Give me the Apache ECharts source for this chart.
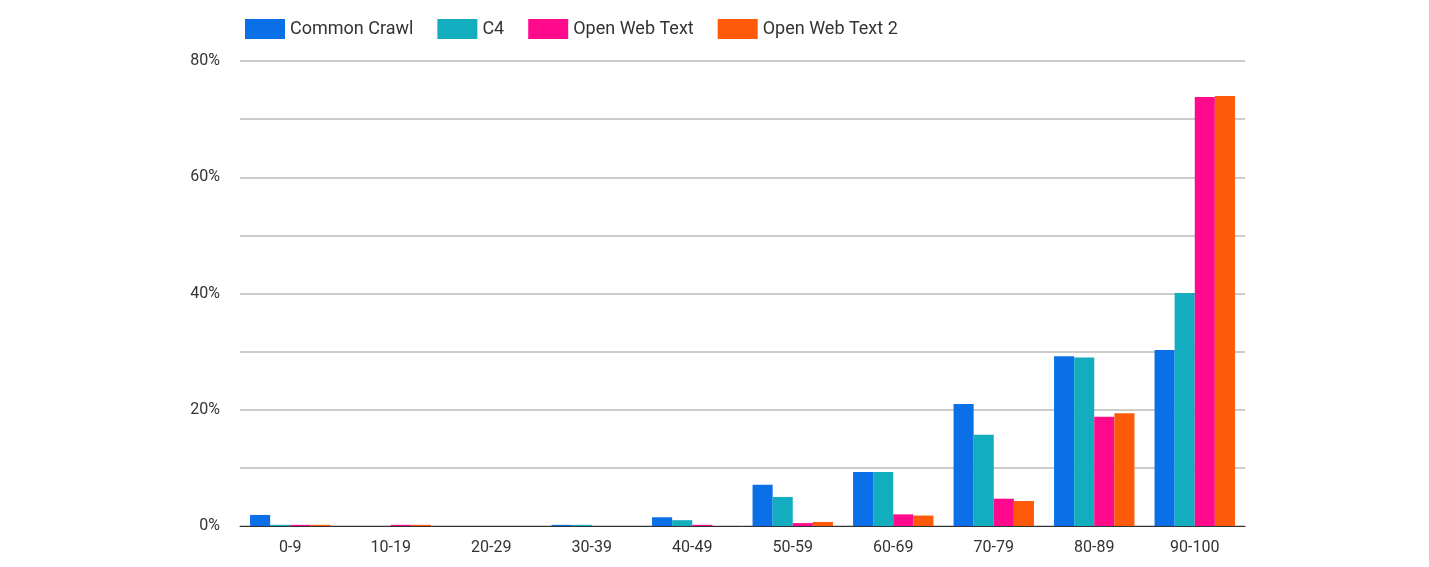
<!DOCTYPE html>
<html>
<head>
<meta charset="UTF-8">
<script src="https://cdn.jsdelivr.net/npm/echarts@6/dist/echarts.min.js"></script>
</head>
<body style="margin:0">
<div id="chart" style="width:1429px;height:567px"></div>
<script>
var categories = ['0-9','10-19','20-29','30-39','40-49','50-59','60-69','70-79','80-89','90-100'];
var commonCrawl = [1.9, 0, 0, 0.2, 1.5, 7.1, 9.3, 21.0, 29.2, 30.3];
var c4 = [0.2, 0, 0, 0.2, 1.0, 5.0, 9.3, 15.7, 29.0, 40.1];
var openWebText = [0.2, 0.2, 0, 0, 0.2, 0.5, 2.0, 4.7, 18.8, 73.8];
var openWebText2 = [0.2, 0.2, 0, 0, 0, 0.7, 1.8, 4.3, 19.4, 74.0];
var colors = ['#0b6fe8', '#12aebf', '#ff0a8c', '#ff5a0a'];

var chart = echarts.init(document.getElementById('chart'));
function s(name, data) { return {name: name, type: 'bar', data: data, barGap: 0, barCategoryGap: '20%'}; }
chart.setOption({
  color: colors,
  textStyle: {fontFamily: 'Roboto'},
  legend: {left: 240, top: 14, itemWidth: 40, itemHeight: 20, itemGap: 24,
    icon: 'rect', textStyle: {fontSize: 18, color: '#333'}},
  grid: {left: 240, right: 184, top: 61, bottom: 41},
  xAxis: {type: 'category', data: categories,
    axisLine: {lineStyle: {color: '#333'}}, axisTick: {show: false},
    axisLabel: {fontSize: 16, color: '#333', margin: 14}},
  yAxis: {type: 'value', min: 0, max: 80, interval: 10,
    axisLabel: {fontSize: 16, color: '#333', margin: 20,
      formatter: function (v) { return v % 20 === 0 ? v + '%' : ''; }},
    splitLine: {lineStyle: {color: '#ccc', width: 2}}},
  series: [s('Common Crawl', commonCrawl), s('C4', c4), s('Open Web Text', openWebText), s('Open Web Text 2', openWebText2)]
});
</script>
</body>
</html>
